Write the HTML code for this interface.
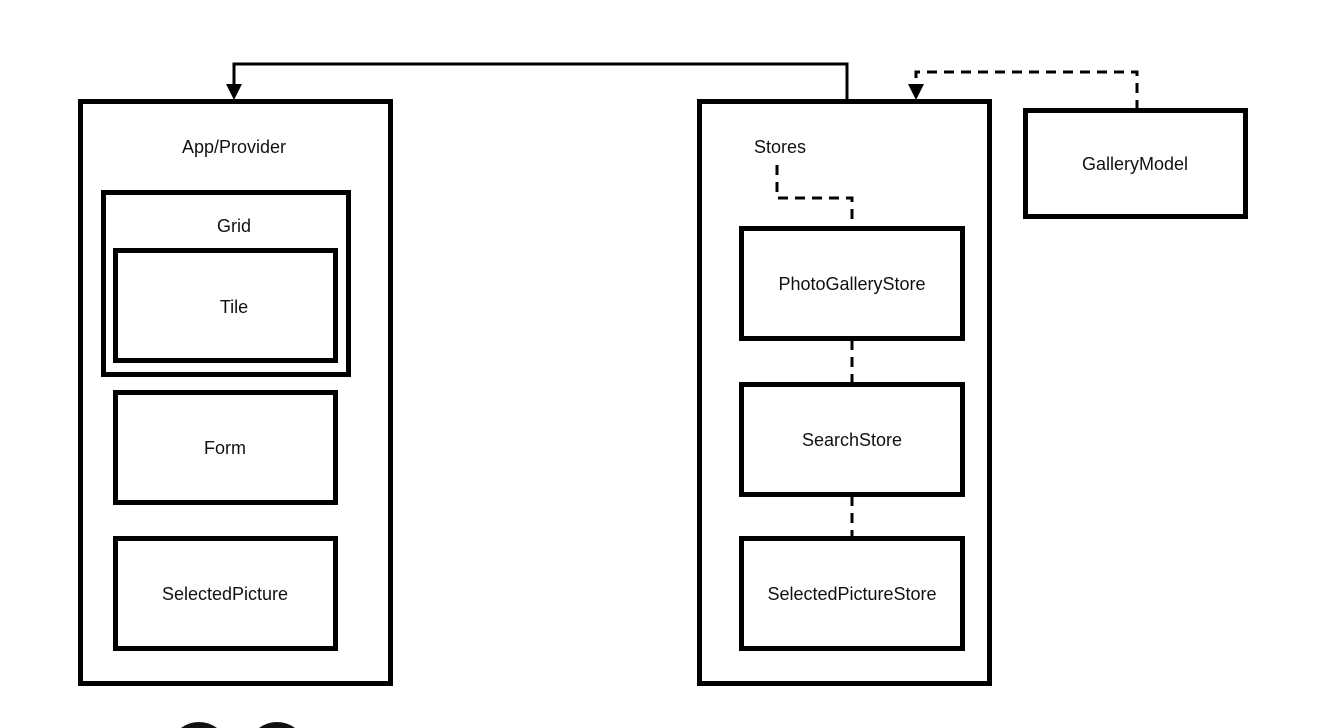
<!DOCTYPE html>
<html><head><meta charset="utf-8"><style>
html,body{margin:0;padding:0;background:#fff;width:1324px;height:728px;overflow:hidden;}
svg{display:block;overflow:hidden;}
text{font-family:"Liberation Sans",sans-serif;font-size:18px;fill:#111;text-anchor:middle;}
</style></head><body>
<svg width="1324" height="728" viewBox="0 0 1324 728">
<rect width="1324" height="728" fill="#fff"/>
<g fill="none" stroke="#000" stroke-width="5">
<rect x="80.5" y="101.5" width="310" height="582"/>
<rect x="103.5" y="192.5" width="245" height="182"/>
<rect x="115.5" y="250.5" width="220" height="110"/>
<rect x="115.5" y="392.5" width="220" height="110"/>
<rect x="115.5" y="538.5" width="220" height="110"/>
<rect x="699.5" y="101.5" width="290" height="582"/>
<rect x="741.5" y="228.5" width="221" height="110"/>
<rect x="741.5" y="384.5" width="221" height="110"/>
<rect x="741.5" y="538.5" width="221" height="110"/>
<rect x="1025.5" y="110.5" width="220" height="106"/>
</g>
<g fill="none" stroke="#000" stroke-width="3">
<polyline points="847,100 847,64 234,64 234,88"/>
<g stroke-dasharray="10,7">
<polyline points="1137,110 1137,72 916,72 916,88"/>
<polyline points="777,165 777,198 852,198 852,228"/>
<line x1="852" y1="340" x2="852" y2="384"/>
<line x1="852" y1="496" x2="852" y2="538"/>
</g>
</g>
<polygon points="226,84 242,84 234,100" fill="#000"/>
<polygon points="908,84 924,84 916,100" fill="#000"/>
<text x="234" y="153">App/Provider</text>
<text x="234" y="232">Grid</text>
<text x="234" y="313">Tile</text>
<text x="225" y="454">Form</text>
<text x="225" y="600">SelectedPicture</text>
<text x="780" y="153">Stores</text>
<text x="852" y="290">PhotoGalleryStore</text>
<text x="852" y="446">SearchStore</text>
<text x="852" y="600">SelectedPictureStore</text>
<text x="1135" y="170">GalleryModel</text>
<path d="M181,728 A30,30 0 0 1 217,728 Z" fill="#111"/>
<path d="M259,728 A30,30 0 0 1 295,728 Z" fill="#111"/>
</svg>
</body></html>
